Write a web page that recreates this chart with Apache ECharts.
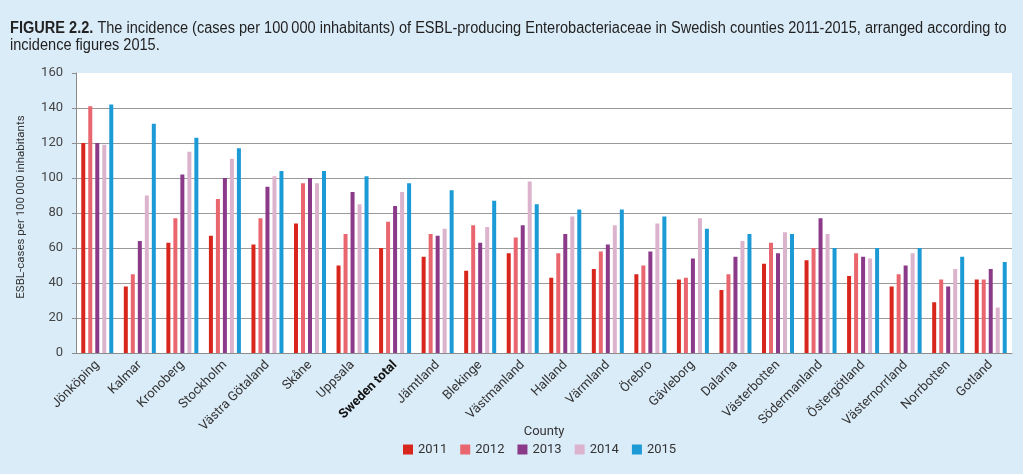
<!DOCTYPE html>
<html><head><meta charset="utf-8">
<script src="https://cdn.jsdelivr.net/npm/echarts@6/dist/echarts.min.js"></script>
<style>html,body{margin:0;padding:0;background:#dbecf9;}#c{width:1023px;height:474px;}</style>
</head><body><div id="c"></div>
<script>
const counties = ['Jönköping','Kalmar','Kronoberg','Stockholm','Västra Götaland','Skåne','Uppsala','Sweden total','Jämtland','Blekinge','Västmanland','Halland','Värmland','Örebro','Gävleborg','Dalarna','Västerbotten','Södermanland','Östergötland','Västernorrland','Norrbotten','Gotland'];
const years = ['2011','2012','2013','2014','2015'];
const v2011 = [120,38,63,67,62,74,50,60,55,47,57,43,48,45,42,36,51,53,44,38,29,42];
const v2012 = [141,45,77,88,77,97,68,75,68,73,66,57,58,50,43,45,63,60,57,45,42,42];
const v2013 = [120,64,102,100,95,100,92,84,67,63,73,68,62,58,54,55,57,77,55,50,38,48];
const v2014 = [119,90,115,111,101,97,85,92,71,72,98,78,73,74,77,64,69,68,54,57,48,26];
const v2015 = [142,131,123,117,104,104,101,97,93,87,85,82,82,78,71,68,68,60,60,60,55,52];
const yTicks = [0,20,40,60,80,100,120,140,160];
const colors = ['#d9261c','#e9666e','#8b3a8a','#dcb3cd','#1c9ad6'];
const seriesValues = [v2011,v2012,v2013,v2014,v2015];

const titleText = '{b|FIGURE 2.2.} The incidence (cases per 100\u2009000 inhabitants) of ESBL-producing Enterobacteriaceae in Swedish counties 2011-2015, arranged according to\nincidence figures 2015.';

const chart = echarts.init(document.getElementById('c'));
chart.setOption({
  backgroundColor: '#dbecf9',
  animation: false,
  graphic: [{
    type: 'text', left: 10, top: 20, scaleX: 0.91, originX: 0,
    style: {
      text: titleText,
      fontFamily: 'Liberation Sans, Arial, sans-serif',
      fontSize: 16, lineHeight: 17, fill: '#222',
      rich: { b: { fontFamily: 'Liberation Sans, Arial, sans-serif', fontSize: 16, fontWeight: 'bold', fill: '#222' } }
    }
  }],
  legend: {
    left: 398, top: 438,
    itemWidth: 10, itemHeight: 10, itemGap: 13,
    icon: 'rect',
    textStyle: { fontFamily: 'Roboto', fontSize: 13, color: '#333' },
    data: years
  },
  grid: { left: 76, right: 11, top: 73, bottom: 121, show: true, backgroundColor: '#ffffff', borderWidth: 0 },
  xAxis: {
    type: 'category', data: counties,
    name: 'County', nameLocation: 'middle', nameGap: 72, nameMoveOverlap: false,
    nameTextStyle: { fontFamily: 'Roboto', fontSize: 13, color: '#333' },
    axisLine: { lineStyle: { color: '#8c8c8c' } },
    axisTick: { show: false },
    axisLabel: {
      interval: 0, rotate: 45, margin: 10,
      fontFamily: 'Roboto', fontSize: 13, color: '#333',
      formatter: function (v) { return v === 'Sweden total' ? '{b|' + v + '}' : v; },
      rich: { b: { fontFamily: 'Roboto', fontSize: 13, fontWeight: 'bold', color: '#111' } }
    }
  },
  yAxis: {
    type: 'value', min: yTicks[0], max: yTicks[yTicks.length-1], interval: yTicks[1]-yTicks[0],
    name: 'ESBL-cases per 100\u2009000 inhabitants', nameLocation: 'middle', nameGap: 49, nameMoveOverlap: false,
    nameTextStyle: { fontFamily: 'Roboto', fontSize: 11.5, color: '#333', padding: [0, 0, 0, 12] },
    axisLine: { show: true, lineStyle: { color: '#8c8c8c' } },
    axisTick: { show: true, length: 4, lineStyle: { color: '#8c8c8c' } },
    axisLabel: { fontFamily: 'Roboto', fontSize: 13, color: '#444', margin: 13 },
    splitLine: { show: true, showMaxLine: false, lineStyle: { color: '#9a9a9a', width: 1 } }
  },
  series: years.map((y, i) => ({
    name: y, type: 'bar', data: seriesValues[i],
    barWidth: 4, barGap: '75%',
    itemStyle: { color: colors[i] }
  }))
});
</script></body></html>
